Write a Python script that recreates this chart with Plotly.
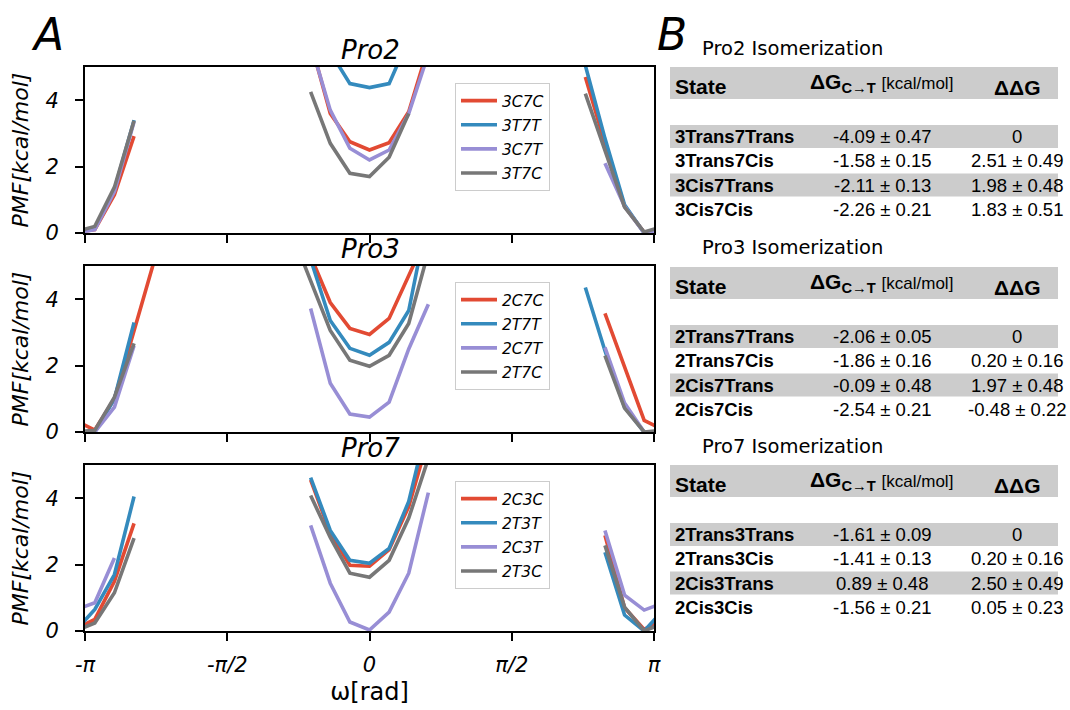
import numpy as np
import plotly.graph_objects as go

N = None
pi = np.pi
NBINS = 29

# ---- PMF data (29 periodic bins of omega, None = not sampled) ----
pro2_3C7C = [0.10, 1.15, 2.92, N, N, N, N, N, N, N, N, 5.75, 3.60, 2.75, 2.50, 2.72, 3.65, 5.60, N, N, N, N, N, N, N, 4.70, 2.70, 0.80, 0.02]
pro2_3T7T = [0.15, 1.30, 3.40, N, N, N, N, N, N, N, N, N, 5.45, 4.50, 4.38, 4.50, 5.85, N, N, N, N, N, N, N, N, 5.05, 2.85, 0.85, 0.00]
pro2_3C7T = [0.10, 1.25, 3.35, N, N, N, N, N, N, N, N, 5.70, 3.70, 2.55, 2.20, 2.50, 3.60, 5.40, N, N, N, N, N, N, N, N, 2.10, 0.80, 0.00]
pro2_3T7C = [0.20, 1.38, 3.38, N, N, N, N, N, N, N, N, 4.25, 2.70, 1.80, 1.70, 2.28, 3.60, N, N, N, N, N, N, N, N, 4.20, 2.50, 0.78, 0.03]

pro3_2C7C = [0.06, 1.00, 3.05, 5.10, N, N, N, N, N, N, N, 5.30, 3.90, 3.12, 2.94, 3.42, 4.80, 6.00, N, N, N, N, N, N, N, N, 3.57, 1.95, 0.35]
pro3_2T7T = [0.00, 1.00, 3.30, N, N, N, N, N, N, N, N, 5.20, 3.36, 2.52, 2.31, 2.70, 3.66, 6.60, N, N, N, N, N, N, N, 4.35, 2.45, 0.75, 0.00]
pro3_2C7T = [0.00, 0.75, 2.60, N, N, N, N, N, N, N, N, 3.72, 1.47, 0.54, 0.45, 0.90, 2.50, 3.85, N, N, N, N, N, N, N, N, 2.55, 0.87, 0.00]
pro3_2T7C = [0.05, 1.05, 2.67, N, N, N, N, N, N, N, 6.05, 4.55, 3.06, 2.16, 1.98, 2.31, 3.27, 5.43, N, N, N, N, N, N, N, N, 2.30, 0.72, 0.00]

pro7_2C3C = [0.35, 1.50, 3.24, N, N, N, N, N, N, N, N, 4.55, 2.95, 1.98, 1.95, 2.45, 3.75, 5.80, N, N, N, N, N, N, N, N, 2.88, 0.70, 0.05]
pro7_2T3T = [0.65, 1.70, 4.05, N, N, N, N, N, N, N, N, 4.62, 3.03, 2.13, 2.04, 2.49, 3.90, 6.35, N, N, N, N, N, N, N, N, 2.37, 0.48, 0.00]
pro7_2C3T = [0.85, 2.20, N, N, N, N, N, N, N, N, N, 3.18, 1.44, 0.27, 0.03, 0.57, 1.74, 4.17, N, N, N, N, N, N, N, N, 3.03, 1.08, 0.63]
pro7_2T3C = [0.24, 1.15, 2.80, N, N, N, N, N, N, N, N, 4.08, 2.82, 1.74, 1.62, 2.13, 3.40, 5.20, N, N, N, N, N, N, N, N, 2.58, 0.72, 0.00]

panel_titles = ["Pro2", "Pro3", "Pro7"]
labels_pro2 = ["3C7C", "3T7T", "3C7T", "3T7C"]
labels_pro3 = ["2C7C", "2T7T", "2C7T", "2T7C"]
labels_pro7 = ["2C3C", "2T3T", "2C3T", "2T3C"]
x_tick_text = ["-π", "-π/2", "0", "π/2", "π"]
y_tick_vals = [0, 2, 4]

# ---- Table data ----
tab_titles = ["Pro2 Isomerization", "Pro3 Isomerization", "Pro7 Isomerization"]
states_pro2 = ["3Trans7Trans", "3Trans7Cis", "3Cis7Trans", "3Cis7Cis"]
dG_pro2 = ["-4.09 ± 0.47", "-1.58 ± 0.15", "-2.11 ± 0.13", "-2.26 ± 0.21"]
ddG_pro2 = ["0", "2.51 ± 0.49", "1.98 ± 0.48", "1.83 ± 0.51"]
states_pro3 = ["2Trans7Trans", "2Trans7Cis", "2Cis7Trans", "2Cis7Cis"]
dG_pro3 = ["-2.06 ± 0.05", "-1.86 ± 0.16", "-0.09 ± 0.48", "-2.54 ± 0.21"]
ddG_pro3 = ["0", "0.20 ± 0.16", "1.97 ± 0.48", "-0.48 ± 0.22"]
states_pro7 = ["2Trans3Trans", "2Trans3Cis", "2Cis3Trans", "2Cis3Cis"]
dG_pro7 = ["-1.61 ± 0.09", "-1.41 ± 0.13", "0.89 ± 0.48", "-1.56 ± 0.21"]
ddG_pro7 = ["0", "0.20 ± 0.16", "2.50 ± 0.49", "0.05 ± 0.23"]

colors = ["#E24A33", "#348ABD", "#988ED5", "#777777"]

W, H = 1070, 710
def px(x):
    return x / W
def py(y):
    return 1 - y / H

# bin centres and periodic wrap
h = 2 * pi / NBINS
xc = [-pi + (k + 0.5) * h for k in range(NBINS)]
xw = [xc[-1] - 2 * pi] + xc + [xc[0] + 2 * pi]
def wrap(vals):
    return [vals[-1]] + list(vals) + [vals[0]]

panels = [
    ([pro2_3C7C, pro2_3T7T, pro2_3C7T, pro2_3T7C], labels_pro2),
    ([pro3_2C7C, pro3_2T7T, pro3_2C7T, pro3_2T7C], labels_pro3),
    ([pro7_2C3C, pro7_2T3T, pro7_2C3T, pro7_2T3C], labels_pro7),
]
panel_px = [(67, 233), (266, 432), (465, 631)]
legend_top = [83, 282, 481]

fig = go.Figure()
ital = dict(family="DejaVu Sans", style="italic", color="black")

for i, (series, labels) in enumerate(panels):
    sfx = "" if i == 0 else str(i + 1)
    for vals, lab, col in zip(series, labels, colors):
        fig.add_trace(go.Scatter(
            x=xw, y=wrap(vals), mode="lines", name=lab,
            line=dict(color=col, width=3.6),
            xaxis="x" + sfx, yaxis="y" + sfx,
            legend="legend" + sfx, legendgroup=lab + sfx,
            showlegend=True, connectgaps=False,
        ))
    top, bot = panel_px[i]
    xa = dict(
        domain=[px(85), px(654)], range=[-pi, pi], anchor="y" + sfx, automargin=False,
        tickvals=[-pi, -pi / 2, 0, pi / 2, pi], ticktext=x_tick_text,
        showticklabels=(i == 2), ticks="outside", ticklen=8, tickwidth=2, tickcolor="black",
        showline=True, linewidth=2, linecolor="black", mirror=True, ticklabelstandoff=6,
        showgrid=False, zeroline=False, tickfont=dict(size=21, **ital),
    )
    ya = dict(
        domain=[py(bot), py(top)], range=[0, 5], anchor="x" + sfx, automargin=False,
        tickvals=y_tick_vals, ticks="outside", ticklen=8, tickwidth=2, tickcolor="black",
        showline=True, linewidth=2, linecolor="black", mirror=True, ticklabelstandoff=12,
        showgrid=False, zeroline=False, tickfont=dict(size=21, **ital),
        title=dict(text="PMF[kcal/mol]", font=dict(size=22, **ital), standoff=11),
    )
    if i == 2:
        xa["title"] = dict(text="ω[rad]", font=dict(size=24, family="DejaVu Sans", color="black"), standoff=7)
    fig.layout["xaxis" + sfx] = xa
    fig.layout["yaxis" + sfx] = ya
    fig.layout["legend" + sfx] = dict(
        x=px(455), y=py(legend_top[i]), xanchor="left", yanchor="top",
        font=dict(size=15.5, **ital), bordercolor="#cccccc", borderwidth=1,
        bgcolor="rgba(255,255,255,0.85)", tracegroupgap=1, itemwidth=36,
    )
    fig.add_annotation(text=panel_titles[i], x=px(370), y=py(top - 17), xref="paper", yref="paper",
                       showarrow=False, font=dict(size=26, **ital), xanchor="center", yanchor="middle")

# panel letters
fig.add_annotation(text="A", x=px(48), y=py(34), xref="paper", yref="paper", showarrow=False,
                   font=dict(size=44, **ital), xanchor="center", yanchor="middle")
fig.add_annotation(text="B", x=px(672), y=py(34), xref="paper", yref="paper", showarrow=False,
                   font=dict(size=44, **ital), xanchor="center", yanchor="middle")

# ---- tables ----
tables = [(states_pro2, dG_pro2, ddG_pro2), (states_pro3, dG_pro3, ddG_pro3), (states_pro7, dG_pro7, ddG_pro7)]
tab_offsets = [0, 200, 398]
band = "#cccccc"
xl, xr = 670, 1058
for t, (st, dg, ddg) in enumerate(tables):
    o = tab_offsets[t]
    fig.add_annotation(text=tab_titles[t], x=px(700), y=py(48 + o), xref="paper", yref="paper",
                       showarrow=False, xanchor="left", yanchor="middle",
                       font=dict(size=19.5, family="DejaVu Sans", color="black"))
    fig.add_shape(type="rect", xref="paper", yref="paper", x0=px(xl), x1=px(xr),
                  y0=py(99 + o), y1=py(67 + o), fillcolor=band, line_width=0, layer="below")
    fig.add_annotation(text="<b>State</b>", x=px(673), y=py(86 + o), xref="paper", yref="paper",
                       showarrow=False, xanchor="left", yanchor="middle",
                       font=dict(size=21, family="Liberation Sans", color="black"))
    fig.add_annotation(text="<b>ΔG<sub>C→T</sub></b> <span style='font-size:17px'>[kcal/mol]</span>",
                       x=px(881), y=py(83 + o), xref="paper", yref="paper",
                       showarrow=False, xanchor="center", yanchor="middle",
                       font=dict(size=21, family="Liberation Sans", color="black"))
    fig.add_annotation(text="<b>ΔΔG</b>", x=px(1017), y=py(87 + o), xref="paper", yref="paper",
                       showarrow=False, xanchor="center", yanchor="middle",
                       font=dict(size=21, family="Liberation Sans", color="black"))
    for r in range(4):
        yc = 136.5 + 24.3 * r + o
        if r % 2 == 0:
            fig.add_shape(type="rect", xref="paper", yref="paper", x0=px(xl), x1=px(xr),
                          y0=py(yc + 11.5), y1=py(yc - 11.5), fillcolor=band, line_width=0, layer="below")
        fig.add_annotation(text="<b>" + st[r] + "</b>", x=px(673), y=py(yc), xref="paper", yref="paper",
                           showarrow=False, xanchor="left", yanchor="middle",
                           font=dict(size=18.5, family="Liberation Sans", color="black"))
        fig.add_annotation(text=dg[r], x=px(882), y=py(yc), xref="paper", yref="paper",
                           showarrow=False, xanchor="center", yanchor="middle",
                           font=dict(size=18.5, family="Liberation Sans", color="black"))
        fig.add_annotation(text=ddg[r], x=px(1017), y=py(yc), xref="paper", yref="paper",
                           showarrow=False, xanchor="center", yanchor="middle",
                           font=dict(size=18.5, family="Liberation Sans", color="black"))

fig.update_layout(width=W, height=H, autosize=False, margin=dict(l=0, r=0, t=0, b=0),
                  paper_bgcolor="white", plot_bgcolor="white")
fig.write_html("out.html")
